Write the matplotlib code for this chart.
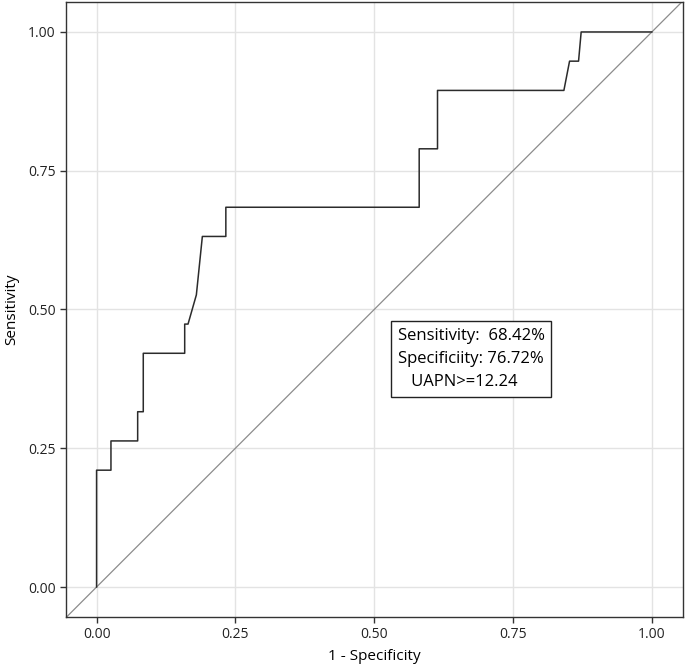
import matplotlib
matplotlib.use("Agg")
from matplotlib import pyplot as plt

plt.rcParams['font.family'] = ['Open Sans', 'DejaVu Sans']

# ROC curve
fpr = [0, 0, 0.0259, 0.0259, 0.074, 0.074, 0.0841, 0.0841, 0.1587, 0.1587, 0.1647, 0.1797,
       0.1905, 0.2328, 0.2328, 0.581, 0.581, 0.614, 0.614, 0.8416, 0.8518, 0.868, 0.8727, 1.0]
tpr = [0, 0.2105, 0.2105, 0.2632, 0.2632, 0.3158, 0.3158, 0.4211, 0.4211, 0.4737, 0.4737, 0.5263,
       0.6316, 0.6316, 0.6842, 0.6842, 0.7895, 0.7895, 0.8947, 0.8947, 0.9474, 0.9474, 1.0, 1.0]
ticks = [0, 0.25, 0.5, 0.75, 1.0]
tick_labels = ["0.00", "0.25", "0.50", "0.75", "1.00"]
annotation = "Sensitivity:  68.42%\nSpecificiity: 76.72%\n   UAPN>=12.24"

fig = plt.figure(figsize=(6.85, 6.65), dpi=100)
ax = fig.add_axes([0.0964, 0.0722, 0.9006, 0.9248])

ax.grid(True, color='#e3e3e3', linewidth=1.0)
ax.set_axisbelow(True)
ax.axline((0, 0), slope=1, color='#8c8c8c', linewidth=0.9)
ax.plot(fpr, tpr, color='#2b2b2b', linewidth=1.1)

ax.set_xlim(-0.055, 1.056)
ax.set_ylim(-0.054, 1.054)
ax.set_xticks(ticks, tick_labels)
ax.set_yticks(ticks, tick_labels)
ax.tick_params(direction='out', length=4, width=1, color='#333333', labelsize=10, labelcolor='#222222')
for s in ax.spines.values():
    s.set_color('#333333')
    s.set_linewidth(1.0)

ax.set_xlabel("1 - Specificity", fontsize=11, labelpad=5)
ax.set_ylabel("Sensitivity", fontsize=11, labelpad=6)

ax.text(0.542, 0.411, annotation, fontsize=12, va='center', ha='left', linespacing=1.6,
        bbox=dict(boxstyle='square,pad=0.4', facecolor='white', edgecolor='#222222', linewidth=1.0))

fig.savefig("out.png", dpi=100)
